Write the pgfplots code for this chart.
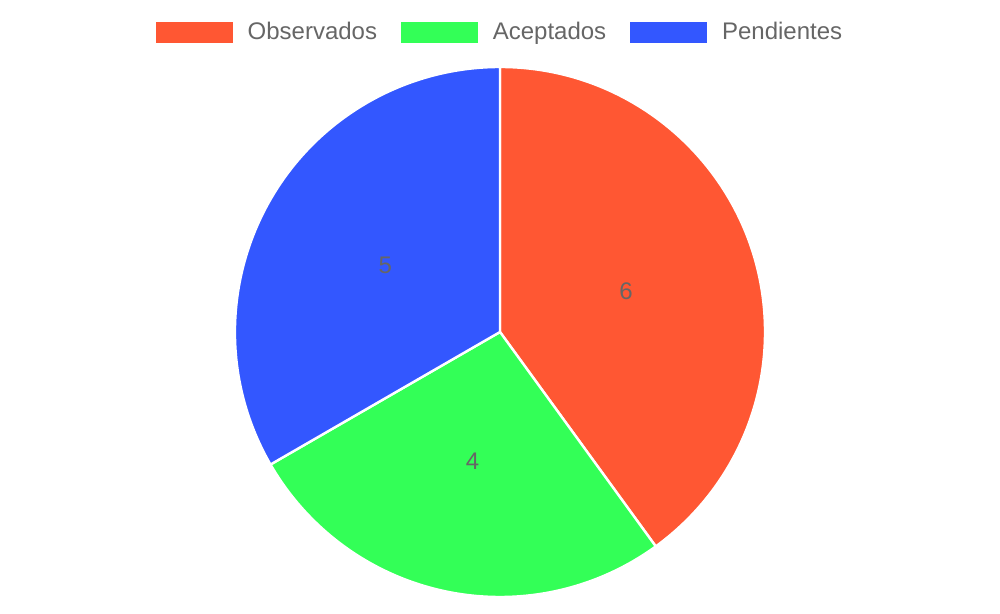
\documentclass[border=0pt]{standalone}
\usepackage{pgfplots}
\pgfplotsset{compat=1.18}
\usepackage{fontspec}
\setmainfont{Liberation Sans}
\definecolor{obs}{HTML}{FF5733}
\definecolor{acp}{HTML}{33FF57}
\definecolor{pen}{HTML}{3357FF}
\definecolor{txt}{HTML}{666666}
% data
\def\vA{6}\def\vB{4}\def\vC{5}
\pgfmathsetmacro{\tot}{\vA+\vB+\vC}
\pgfmathsetmacro{\aS}{90}
\pgfmathsetmacro{\aE}{\aS-360*\vA/\tot}
\pgfmathsetmacro{\bE}{\aE-360*\vB/\tot}
\pgfmathsetmacro{\cE}{\bE-360*\vC/\tot}
\pgfmathsetmacro{\aM}{(\aS+\aE)/2}
\pgfmathsetmacro{\bM}{(\aE+\bE)/2}
\pgfmathsetmacro{\cM}{(\bE+\cE)/2}
\def\R{265}
\begin{document}
\begin{tikzpicture}
\begin{axis}[
  width=500pt, height=300pt, scale only axis,
  xmin=-500, xmax=500, ymin=-268, ymax=332,
  hide axis, clip=false,
  legend columns=3,
  legend image code/.code={\fill[#1] (0pt,-5pt) rectangle (38pt,5pt);},
  legend style={at={(axis cs:0,300)}, anchor=center, draw=none, fill=none,
    font=\fontsize{12}{14}\selectfont, text=txt,
    nodes={inner sep=1pt, anchor=west},
    /tikz/every odd column/.append style={column sep=6.5pt},
    /tikz/every even column/.append style={column sep=11pt}},
]
\path (axis cs:-500,-268) rectangle (axis cs:500,332);
\addlegendimage{obs}\addlegendentry{Observados}
\addlegendimage{acp}\addlegendentry{Aceptados}
\addlegendimage{pen}\addlegendentry{Pendientes}
\fill[obs, draw=white, line width=1.2pt] (axis cs:0,0) -- (axis cs:{\R*cos(\aS)},{\R*sin(\aS)}) arc[start angle=\aS, end angle=\aE, radius=132.5pt] -- cycle;
\fill[acp, draw=white, line width=1.2pt] (axis cs:0,0) -- (axis cs:{\R*cos(\aE)},{\R*sin(\aE)}) arc[start angle=\aE, end angle=\bE, radius=132.5pt] -- cycle;
\fill[pen, draw=white, line width=1.2pt] (axis cs:0,0) -- (axis cs:{\R*cos(\bE)},{\R*sin(\bE)}) arc[start angle=\bE, end angle=\cE, radius=132.5pt] -- cycle;
\node[text=txt, font=\fontsize{12}{14}\selectfont] at (axis cs:{\R/2*cos(\aM)},{\R/2*sin(\aM)}) {\vA};
\node[text=txt, font=\fontsize{12}{14}\selectfont] at (axis cs:{\R/2*cos(\bM)},{\R/2*sin(\bM)}) {\vB};
\node[text=txt, font=\fontsize{12}{14}\selectfont] at (axis cs:{\R/2*cos(\cM)},{\R/2*sin(\cM)}) {\vC};
\end{axis}
\end{tikzpicture}
\end{document}
